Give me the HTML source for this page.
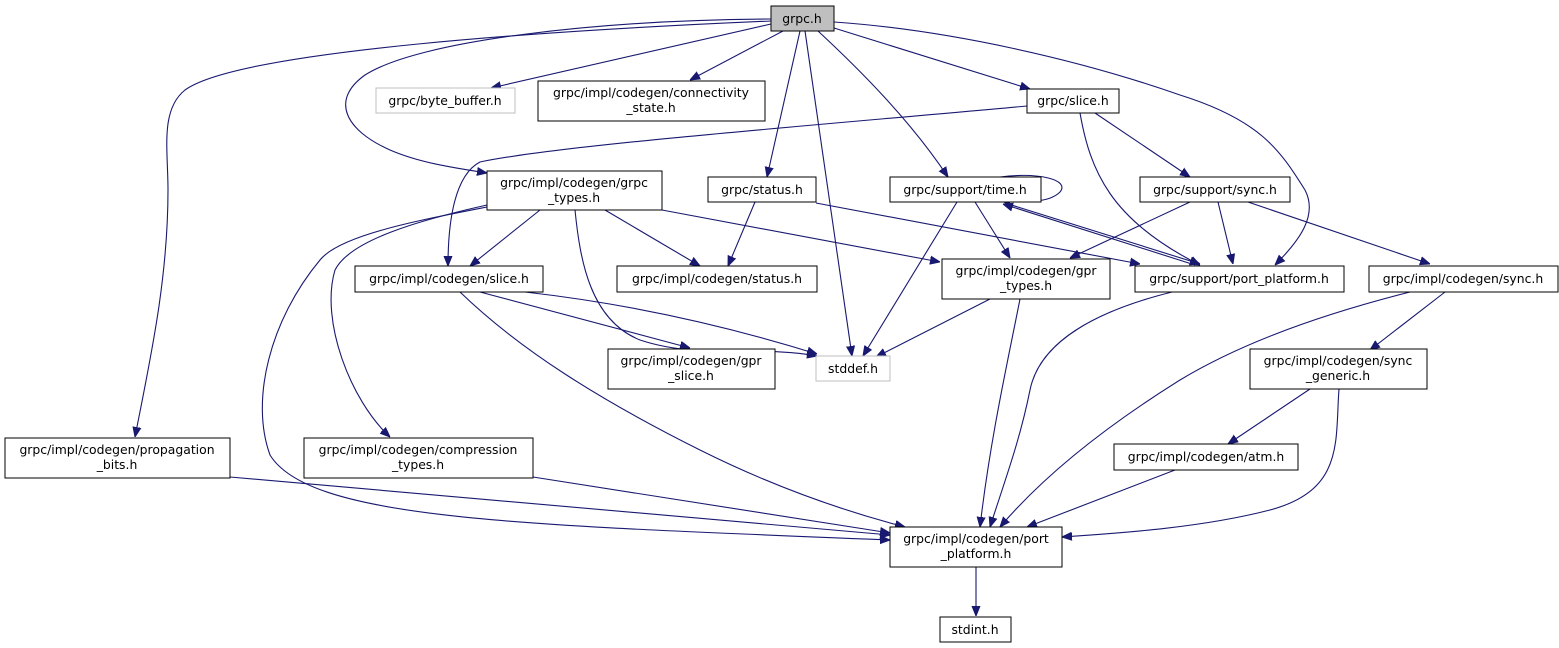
<!DOCTYPE html>
<html><head><meta charset="utf-8"><style>
html,body{margin:0;padding:0;background:#fff;}
svg{display:block;}
text{font-family:"DejaVu Sans","Liberation Sans",sans-serif;font-size:12.4px;fill:#000;}
.e{fill:none;stroke:#191970;stroke-width:1.1;marker-end:url(#a);}
.n{fill:#fff;stroke:#000;stroke-width:1;}
.g{fill:#fff;stroke:#bfbfbf;stroke-width:1;}
</style></head><body>
<svg width="1559" height="648" viewBox="0 0 1559 648" xmlns="http://www.w3.org/2000/svg">
<defs><marker id="a" viewBox="0 0 10 10" refX="10" refY="5" markerWidth="10" markerHeight="10" markerUnits="userSpaceOnUse" orient="auto"><path d="M0,1 L10,5 L0,9 z" fill="#191970" stroke="#191970"/></marker></defs>

<path class="e" d="M771,24 L491,88"/>
<path class="e" d="M783,31 L690,80"/>
<path class="e" d="M834,28 L1030,89"/>
<path class="e" d="M800,31 L767,177"/>
<path class="e" d="M805,31 L852,356"/>
<path class="e" d="M818,31 C860,70 910,120 948,177"/>
<path class="e" d="M834,22 C950,30 1080,60 1180,95 C1260,120 1280,150 1305,190 C1318,215 1300,240 1275,265"/>
<path class="e" d="M771,19 C600,20 420,40 365,75 C330,100 345,130 390,150 C420,163 455,168 487,173"/>
<path class="e" d="M771,21 C560,30 240,50 185,90 C160,110 168,150 168,190 C168,280 150,360 135,437"/>
<path class="e" d="M1027,106 C820,125 560,145 480,162 C455,175 448,220 448,266"/>
<path class="e" d="M1095,113 L1190,177"/>
<path class="e" d="M1080,113 C1090,170 1110,220 1200,265"/>
<path class="e" d="M540,210 L470,266"/>
<path class="e" d="M605,210 L700,266"/>
<path class="e" d="M662,210 L940,262"/>
<path class="e" d="M575,210 C580,260 590,320 640,340 C700,360 760,345 817,356"/>
<path class="e" d="M487,205 C420,220 350,240 335,270 C320,320 350,400 390,437"/>
<path class="e" d="M487,207 C420,220 340,235 320,260 C270,320 250,400 270,455 C310,520 520,525 890,540"/>
<path class="e" d="M755,202 L728,266"/>
<path class="e" d="M816,203 L1140,264"/>
<path class="e" d="M1000,177 C1040,172 1070,180 1060,192 C1050,202 1030,203 1000,200"/>
<path class="e" d="M975,202 L1010,258"/>
<path class="e" d="M957,202 L863,356"/>
<path class="e" d="M1005,203 L1200,264"/>
<path class="e" d="M1195,265 L1003,204"/>
<path class="e" d="M1190,202 L1070,258"/>
<path class="e" d="M1218,202 L1233,264"/>
<path class="e" d="M1248,202 L1430,264"/>
<path class="e" d="M990,299 L876,357"/>
<path class="e" d="M1020,299 C1008,360 990,440 980,527"/>
<path class="e" d="M1172,292 C1100,310 1040,340 1030,390 C1020,440 1005,480 990,527"/>
<path class="e" d="M1410,292 C1300,320 1230,350 1180,380 C1100,430 1040,480 1000,527"/>
<path class="e" d="M1445,292 L1370,350"/>
<path class="e" d="M1310,389 L1228,444"/>
<path class="e" d="M1339,389 C1335,440 1345,490 1270,510 C1200,528 1120,533 1062,537"/>
<path class="e" d="M1175,470 L1027,527"/>
<path class="e" d="M480,292 L690,348"/>
<path class="e" d="M525,292 C640,305 740,330 817,354"/>
<path class="e" d="M460,292 C520,350 600,400 700,450 C770,485 840,510 905,527"/>
<path class="e" d="M230,477 L890,535"/>
<path class="e" d="M533,477 L890,533"/>
<path class="e" d="M976,567 L976,616"/>

<rect x="771" y="6" width="63" height="25" fill="#bfbfbf" stroke="#000"/>
<text x="802" y="23" text-anchor="middle">grpc.h</text>

<rect class="g" x="376" y="88" width="139" height="25"/>
<text x="445" y="105" text-anchor="middle">grpc/byte_buffer.h</text>

<rect class="n" x="538" y="81" width="227" height="40"/>
<text x="651" y="97" text-anchor="middle">grpc/impl/codegen/connectivity</text>
<text x="651" y="112" text-anchor="middle">_state.h</text>

<rect class="n" x="1027" y="89" width="92" height="24"/>
<text x="1073" y="105" text-anchor="middle">grpc/slice.h</text>

<rect class="n" x="487" y="171" width="175" height="39"/>
<text x="574" y="187" text-anchor="middle">grpc/impl/codegen/grpc</text>
<text x="574" y="202" text-anchor="middle">_types.h</text>

<rect class="n" x="708" y="177" width="108" height="25"/>
<text x="762" y="194" text-anchor="middle">grpc/status.h</text>

<rect class="n" x="890" y="177" width="151" height="25"/>
<text x="965" y="194" text-anchor="middle">grpc/support/time.h</text>

<rect class="n" x="1140" y="177" width="150" height="25"/>
<text x="1215" y="194" text-anchor="middle">grpc/support/sync.h</text>

<rect class="n" x="355" y="266" width="188" height="26"/>
<text x="449" y="283" text-anchor="middle">grpc/impl/codegen/slice.h</text>

<rect class="n" x="617" y="266" width="200" height="26"/>
<text x="717" y="283" text-anchor="middle">grpc/impl/codegen/status.h</text>

<rect class="n" x="942" y="259" width="168" height="40"/>
<text x="1026" y="275" text-anchor="middle">grpc/impl/codegen/gpr</text>
<text x="1026" y="290" text-anchor="middle">_types.h</text>

<rect class="n" x="1135" y="266" width="209" height="26"/>
<text x="1239" y="283" text-anchor="middle">grpc/support/port_platform.h</text>

<rect class="n" x="1369" y="266" width="189" height="26"/>
<text x="1463" y="283" text-anchor="middle">grpc/impl/codegen/sync.h</text>

<rect class="n" x="608" y="349" width="167" height="40"/>
<text x="691" y="365" text-anchor="middle">grpc/impl/codegen/gpr</text>
<text x="691" y="380" text-anchor="middle">_slice.h</text>

<rect class="g" x="816" y="356" width="74" height="25"/>
<text x="853" y="373" text-anchor="middle">stddef.h</text>

<rect class="n" x="1250" y="349" width="177" height="40"/>
<text x="1338" y="365" text-anchor="middle">grpc/impl/codegen/sync</text>
<text x="1338" y="380" text-anchor="middle">_generic.h</text>

<rect class="n" x="5" y="438" width="225" height="40"/>
<text x="117" y="454" text-anchor="middle">grpc/impl/codegen/propagation</text>
<text x="117" y="469" text-anchor="middle">_bits.h</text>

<rect class="n" x="304" y="438" width="229" height="40"/>
<text x="418" y="454" text-anchor="middle">grpc/impl/codegen/compression</text>
<text x="418" y="469" text-anchor="middle">_types.h</text>

<rect class="n" x="1114" y="444" width="184" height="26"/>
<text x="1206" y="461" text-anchor="middle">grpc/impl/codegen/atm.h</text>

<rect class="n" x="890" y="527" width="172" height="40"/>
<text x="976" y="543" text-anchor="middle">grpc/impl/codegen/port</text>
<text x="976" y="558" text-anchor="middle">_platform.h</text>

<rect class="n" x="940" y="617" width="71" height="25"/>
<text x="975" y="634" text-anchor="middle">stdint.h</text>
</svg>
</body></html>
